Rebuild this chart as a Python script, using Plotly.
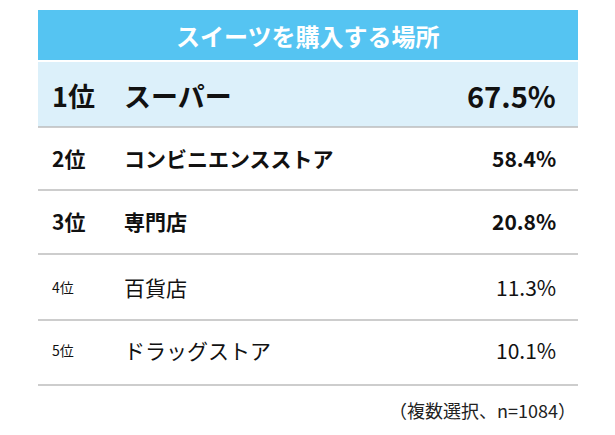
import plotly.graph_objects as go

title = "スイーツを購入する場所"
ranks = ["1位", "2位", "3位", "4位", "5位"]
places = ["スーパー", "コンビニエンスストア", "専門店", "百貨店", "ドラッグストア"]
values = [67.5, 58.4, 20.8, 11.3, 10.1]
note = "（複数選択、n=1084）"

row_y = [95, 158, 221, 287, 350]
row_bot = [127, 190, 254, 320, 385]
rank_size = [27, 21, 21, 14, 14]
name_size = [27, 21, 21, 21, 21]
pct_size = [29, 21, 21, 21, 21]
bold = [True, True, True, False, False]

F = "Noto Sans CJK JP"
fig = go.Figure()
shapes = [dict(type="rect", x0=38, x1=578, y0=10, y1=60, fillcolor="#55C4F2", line_width=0, layer="below"),
          dict(type="rect", x0=38, x1=578, y0=62, y1=127, fillcolor="#DCF0FA", line_width=0, layer="below")]
for b in row_bot:
    shapes.append(dict(type="line", x0=38, x1=578, y0=b, y1=b, line=dict(color="#BDBDBD", width=1.5)))
ann = [dict(x=308, y=35, text="<b>" + title + "</b>", showarrow=False, font=dict(family=F, size=24, color="white"))]
for i in range(5):
    w = (lambda s: "<b>%s</b>" % s) if bold[i] else (lambda s: s)
    ann.append(dict(x=50, y=row_y[i], xanchor="left", text=w(ranks[i]), showarrow=False, font=dict(family=F, size=rank_size[i], color="#111")))
    ann.append(dict(x=122, y=row_y[i], xanchor="left", text=w(places[i]), showarrow=False, font=dict(family=F, size=name_size[i], color="#111")))
    ann.append(dict(x=558, y=row_y[i], xanchor="right", text=w("%.1f%%" % values[i]), showarrow=False, font=dict(family=F, size=pct_size[i], color="#111")))
ann.append(dict(x=578, y=410, xanchor="right", text=note, showarrow=False, font=dict(family=F, size=18, color="#222")))
fig.update_layout(width=615, height=435, margin=dict(l=0, r=0, t=0, b=0), plot_bgcolor="white", paper_bgcolor="white",
                  shapes=shapes, annotations=ann,
                  xaxis=dict(range=[8, 623], visible=False), yaxis=dict(range=[443, 8], visible=False))
fig.write_html("out.html")
